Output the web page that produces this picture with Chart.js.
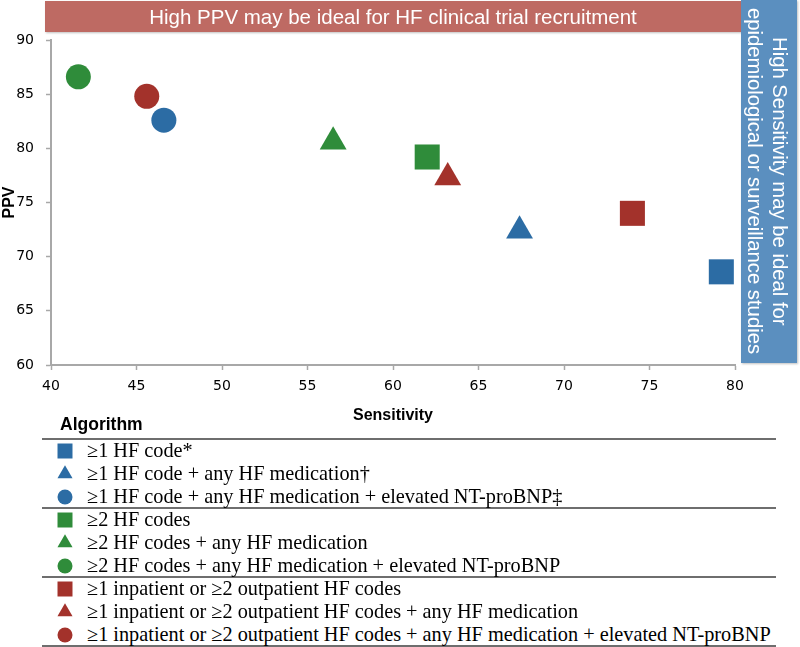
<!DOCTYPE html>
<html>
<head>
<meta charset="utf-8">
<script src="https://cdn.jsdelivr.net/npm/chart.js@4.4.1/dist/chart.umd.min.js"></script>
<style>
body { margin:0; background:#fff; }
#wrap { position:relative; width:800px; height:647px; overflow:hidden; background:#fff; }
#myChart { position:absolute; left:0; top:0; }
#ppvNote {
    position:absolute; left:45px; top:1px; width:696px; height:31px;
    background:#be6a63; color:#fff; text-align:center;
    font:20.5px "Liberation Sans", Arial, sans-serif; line-height:31px;
    box-shadow:1px 1px 2px rgba(0,0,0,0.25);
}
#sensNote {
    position:absolute; left:741px; top:0; width:56px; height:363px;
    background:#5b8fbf; color:#fff;
    display:flex; align-items:center; justify-content:center;
    box-shadow:1px 1px 2px rgba(0,0,0,0.25);
}
#sensNote div {
    writing-mode:vertical-rl; text-align:center; margin-right:4px;
    font:20.3px "Liberation Sans", Arial, sans-serif; line-height:25px; white-space:nowrap;
}
#legendHead {
    position:absolute; left:60px; top:414px;
    font:bold 17.5px "Liberation Sans", Arial, sans-serif; color:#000;
}
.rule { position:absolute; left:42px; width:734px; height:2px; background:#6e6e6e; }
.row { position:absolute; left:0; height:23px; width:800px; }
.row canvas { position:absolute; left:55px; top:2px; }
.row span {
    position:absolute; left:87px; top:0; line-height:23px; white-space:nowrap;
    font:20.3px "Liberation Serif", "Times New Roman", serif; color:#000;
}
</style>
</head>
<body>
<div id="wrap">
    <canvas id="myChart" width="800" height="430"></canvas>
    <div id="ppvNote">High PPV may be ideal for HF clinical trial recruitment</div>
    <div id="sensNote"><div>High Sensitivity may be ideal for<br>epidemiological or surveillance studies</div></div>
    <div id="legendHead">Algorithm</div>
    <div id="legendBox"></div>
</div>
<script>
// algorithms, in table order
const algorithms = [
    '≥1 HF code*',
    '≥1 HF code + any HF medication†',
    '≥1 HF code + any HF medication + elevated NT-proBNP‡',
    '≥2 HF codes',
    '≥2 HF codes + any HF medication',
    '≥2 HF codes + any HF medication + elevated NT-proBNP',
    '≥1 inpatient or ≥2 outpatient HF codes',
    '≥1 inpatient or ≥2 outpatient HF codes + any HF medication',
    '≥1 inpatient or ≥2 outpatient HF codes + any HF medication + elevated NT-proBNP'
];
const sensitivity = [79.2, 67.4, 46.6, 62.0, 56.5, 41.6, 74.0, 63.2, 45.6];
const ppv = [68.6, 72.4, 82.6, 79.2, 80.6, 86.6, 74.0, 77.3, 84.8];

const xTicks = { min: 40, max: 80, step: 5 };
const yTicks = { min: 60, max: 90, step: 5 };

// styles
const groupColors = ['#2c6ca4', '#2f8c3a', '#a3322b'];
const shapes = ['rect', 'triangle', 'circle'];
const plotRadius = { rect: 17.7, triangle: 15.5, circle: 12.5 };
const keyRadius = { rect: 10.6, triangle: 8.7, circle: 7.5 };

const datasets = algorithms.map((name, i) => {
    const color = groupColors[Math.floor(i / 3)];
    const shape = shapes[i % 3];
    return {
        label: name,
        data: [{ x: sensitivity[i], y: ppv[i] }],
        pointStyle: shape,
        pointRadius: plotRadius[shape],
        pointHoverRadius: plotRadius[shape],
        backgroundColor: color,
        borderColor: color,
        borderWidth: 0
    };
});

const axisGray = '#a8a8a8';
const ctx = document.getElementById('myChart').getContext('2d');

const myChart = new Chart(ctx, {
    type: 'scatter',
    data: { datasets: datasets },
    options: {
        responsive: false,
        animation: false,
        devicePixelRatio: 1,
        layout: { padding: { top: 40, right: 65, left: 0, bottom: 0 } },
        plugins: { legend: { display: false }, tooltip: { enabled: false } },
        scales: {
            x: {
                type: 'linear', min: xTicks.min, max: xTicks.max,
                ticks: { stepSize: xTicks.step, color: '#000', padding: 8,
                    font: { family: 'DejaVu Sans', size: 14 } },
                grid: { drawOnChartArea: false, tickLength: 5, tickColor: axisGray, tickWidth: 1.5 },
                border: { color: axisGray, width: 2 },
                title: { display: true, text: 'Sensitivity', color: '#000',
                    font: { family: 'Liberation Sans', size: 16, weight: 'bold' },
                    padding: { top: 0, bottom: 5 } },
                afterFit: (scale) => { scale.height = 65; }
            },
            y: {
                type: 'linear', min: yTicks.min, max: yTicks.max,
                ticks: { stepSize: yTicks.step, color: '#000', padding: 12,
                    font: { family: 'DejaVu Sans', size: 14 } },
                grid: { drawOnChartArea: false, tickLength: 5, tickColor: axisGray, tickWidth: 1.5 },
                border: { color: axisGray, width: 2 },
                title: { display: true, text: 'PPV', color: '#000',
                    font: { family: 'Liberation Sans', size: 16, weight: 'bold' },
                    padding: { top: 0, bottom: 0 } },
                afterFit: (scale) => { scale.width = 51; }
            }
        }
    }
});

// table-style legend under the chart
function buildLegend(chart) {
    const box = document.getElementById('legendBox');
    const ruleY = [438, 507, 576, 645];
    ruleY.forEach(y => {
        const r = document.createElement('div');
        r.className = 'rule';
        r.style.top = y + 'px';
        box.append(r);
    });
    chart.data.datasets.forEach((ds, i) => {
        const group = Math.floor(i / 3);
        const top = ruleY[group] + 1 + (i % 3) * 23;
        const row = document.createElement('div');
        row.className = 'row';
        row.style.top = top + 'px';

        const c = document.createElement('canvas');
        c.width = 20; c.height = 20;
        const k = c.getContext('2d');
        k.fillStyle = ds.backgroundColor;
        k.strokeStyle = ds.borderColor;
        Chart.helpers.drawPoint(k, {
            pointStyle: ds.pointStyle, radius: keyRadius[ds.pointStyle],
            rotation: 0, borderWidth: 0
        }, 10, 10);
        row.append(c);

        const s = document.createElement('span');
        s.textContent = ds.label;
        row.append(s);
        box.append(row);
    });
}

buildLegend(myChart);
</script>
</body>
</html>
